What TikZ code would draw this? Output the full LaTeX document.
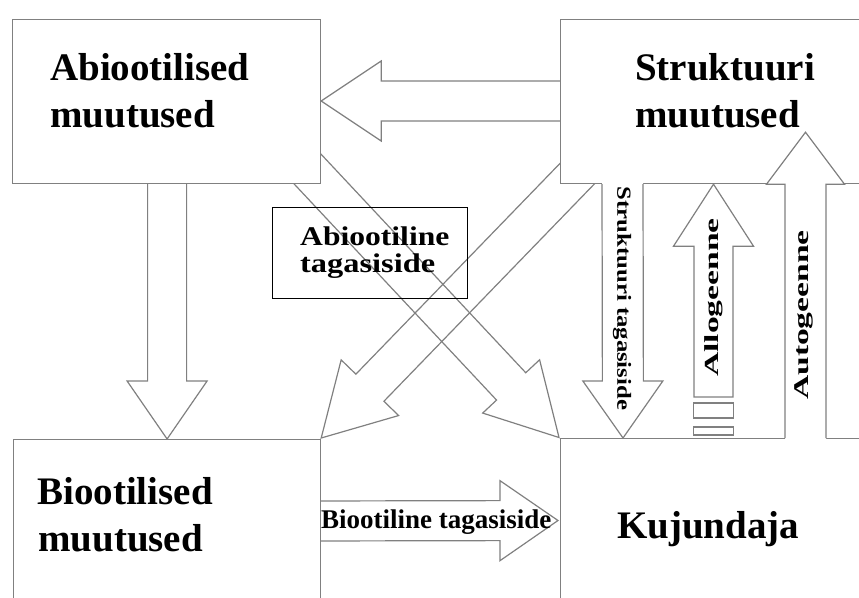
\documentclass[tikz,border=0pt]{standalone}
\usepackage{fontspec}
\setmainfont{Liberation Serif}
\usepackage{graphicx}
\usetikzlibrary{calc}
\definecolor{lg}{RGB}{128,128,128}
\pgfdeclarelayer{bg}
\pgfdeclarelayer{fg}
\pgfsetlayers{bg,main,fg}

% white fill of a block arrow (tail slightly extended to hide box edges)
\newcommand\arrowfill[6]{%
  \coordinate (#6fh) at ($(#2)!#5!(#1)$);
  \coordinate (#6fx) at ($(#1)!-2.5pt!(#2)$);
  \fill[white] ($(#6fx)!#3!90:(#2)$) -- ($(#6fh)!#3!90:(#2)$) -- ($(#6fh)!#4!90:(#2)$) -- (#2)
    -- ($(#6fh)!#4!-90:(#2)$) -- ($(#6fh)!#3!-90:(#2)$) -- ($(#6fx)!#3!-90:(#2)$) -- cycle;
}
% outline of a block arrow: tail, tip, half shaft, half head, head length, name, end
\newcommand\arrowshape[7]{%
  \coordinate (#6h) at ($(#2)!#5!(#1)$);
  \draw[arr] ($(#1)!#3!90:(#2)$) -- ($(#6h)!#3!90:(#2)$) -- ($(#6h)!#4!90:(#2)$) -- (#2)
    -- ($(#6h)!#4!-90:(#2)$) -- ($(#6h)!#3!-90:(#2)$) -- ($(#1)!#3!-90:(#2)$) #7;
}

\begin{document}
\begin{tikzpicture}[x=1pt,y=-1pt,
  box/.style={draw=lg, fill=white, line width=1.2pt, inner sep=0pt, anchor=north west},
  arr/.style={draw=lg, line width=1.2pt, line join=miter},
  bigtxt/.style={font=\fontsize{39}{47}\selectfont\bfseries, inner sep=0pt, anchor=base west},
  midtxt/.style={font=\fontsize{27}{27}\selectfont\bfseries, inner sep=0pt, anchor=base west},
  tagbox/.style={draw=black, line width=1pt, inner sep=0pt, anchor=north west}]
\useasboundingbox (0,0) rectangle (859,597);
\clip (0,0) rectangle (859,597);

% boxes
\node[box, minimum width=308pt, minimum height=164pt] (abio) at (12,19) {};
\node[box, minimum width=330pt, minimum height=164pt] (strukt) at (560,19) {};
\node[box, minimum width=307pt, minimum height=200pt] (bio) at (13,439) {};
\node[box, minimum width=330pt, minimum height=200pt] (kuj) at (560,438) {};

% box texts
\node[bigtxt] (abio1) at (50,80) {Abiootilised};
\node[bigtxt] (abio2) at (50,127) {muutused};
\node[bigtxt] (strukt1) at (635,80) {Struktuuri};
\node[bigtxt] (strukt2) at (635,127) {muutused};
\node[bigtxt] (bio1) at (37,504) {Biootilised};
\node[bigtxt] (bio2) at (38,551) {muutused};
\node[bigtxt] (kuj1) at (617,538) {Kujundaja};

% arrow end points
\coordinate (tA) at ($(strukt.north west)+(20,82)$);
\coordinate (pA) at ($(abio.north east)+(0,82)$);
\coordinate (tB) at ($(bio.north)+(0,-271)$);
\coordinate (pB) at (bio.north);
\coordinate (tF) at ($(bio.north east)+(-15,82)$);
\coordinate (pF) at ($(kuj.north west)+(-2,82.5)$);
\coordinate (tG) at ($(abio.south east)+(-32.4,-35.2)$);
\coordinate (pG) at ($(kuj.north west)+(-1,-0.5)$);
\coordinate (tH) at ($(strukt.south west)+(37,-31)$);
\coordinate (pH) at ($(bio.north east)+(0,-1)$);
\coordinate (tC) at ($(strukt.south west)+(62.5,0)$);
\coordinate (pC) at ($(kuj.north west)+(63,0)$);
\coordinate (tD) at ($(kuj.north west)+(153.5,-41)$);
\coordinate (pD) at ($(strukt.south west)+(153.5,0)$);
\coordinate (tE) at ($(kuj.north west)+(245.5,0)$);
\coordinate (pE) at ($(strukt.south west)+(245.5,-52)$);

\begin{pgfonlayer}{bg}
  \arrowshape{tA}{pA}{20pt}{40pt}{60pt}{aA}{}
  \arrowshape{tB}{pB}{19.5pt}{40pt}{58pt}{aB}{}
  \arrowshape{tF}{pF}{20pt}{40pt}{58pt}{aF}{}
  \arrowshape{tG}{pG}{20pt}{39pt}{70pt}{aG}{}
  \arrowshape{tH}{pH}{19.5pt}{40pt}{70pt}{aH}{}
\end{pgfonlayer}

\begin{pgfonlayer}{fg}
  % Struktuuri tagasiside
  \arrowfill{tC}{pC}{20.5pt}{40pt}{57pt}{aC}
  \arrowshape{tC}{pC}{20.5pt}{40pt}{57pt}{aC}{}
  % Autogeenne
  \arrowfill{tE}{pE}{20.5pt}{39pt}{52pt}{aE}
  \arrowshape{tE}{pE}{20.5pt}{39pt}{52pt}{aE}{}
  % Allogeenne (striped tail)
  \arrowshape{tD}{pD}{19.5pt}{40pt}{62pt}{aD}{-- cycle}
  \draw[arr] ($(tD)+(-20,6)$) rectangle ($(tD)+(20,21)$);
  \draw[arr] ($(tD)+(-20,30)$) rectangle ($(tD)+(20,38)$);

  % Abiootiline tagasiside label box
  \node[tagbox, minimum width=195pt, minimum height=91pt] (abtag) at (272,207) {};
  \node[midtxt] (abtag1) at (300,245) {\scalebox{1.17}[1]{Abiootiline}};
  \node[midtxt] (abtag2) at (300,272) {\scalebox{1.2}[1]{tagasiside}};

  % arrow labels
  \node[midtxt] (biotag) at (321,528) {Biootiline tagasiside};
  \node[rotate=-90, inner sep=0pt, font=\fontsize{20}{20}\selectfont\bfseries] (sttag) at (622,298.5)
    {\scalebox{1.235}[1]{Struktuuri tagasiside}};
  \node[rotate=90, inner sep=0pt, font=\fontsize{20}{20}\selectfont\bfseries] (allo) at (713.5,297.5)
    {\scalebox{1.68}[1]{Allogeenne}};
  \node[rotate=90, inner sep=0pt, font=\fontsize{21}{21}\selectfont\bfseries] (auto) at (804,315)
    {\scalebox{1.6}[1]{Autogeenne}};
\end{pgfonlayer}
\end{tikzpicture}
\end{document}
